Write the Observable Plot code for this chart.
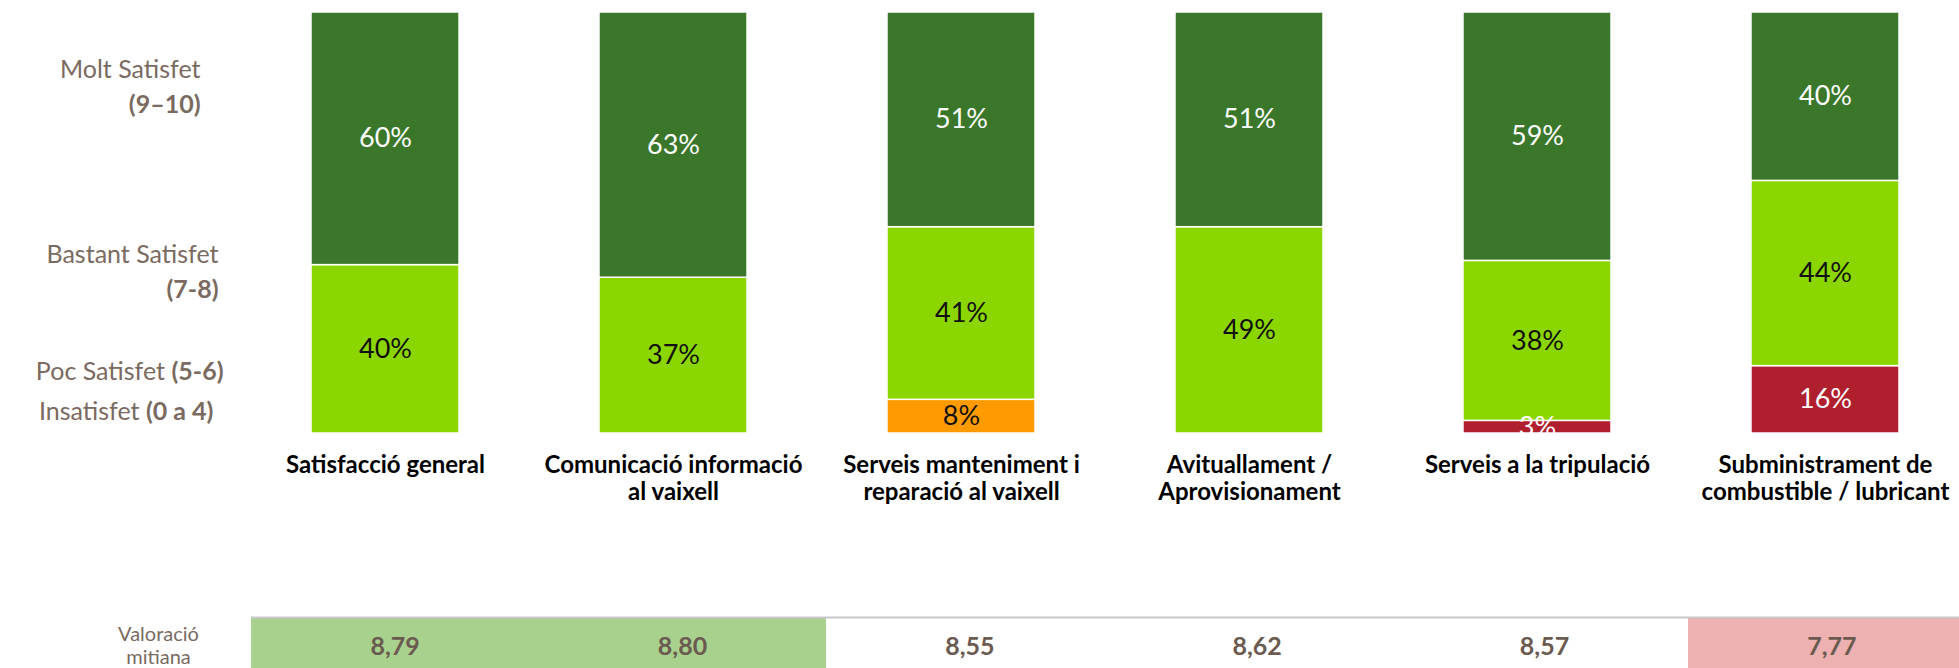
<!DOCTYPE html>
<html>
<head>
<meta charset="utf-8">
<script src="https://cdn.jsdelivr.net/npm/d3@7"></script>
<script src="https://cdn.jsdelivr.net/npm/@observablehq/plot@0.6"></script>
<style>
  html, body { margin: 0; padding: 0; background: #fff; overflow: hidden; }
  #chart svg { display: block; }
</style>
</head>
<body>
<div id="chart"></div>
<script>
// ---- data ----
const categoryLines = [
  ["Satisfacció general"],
  ["Comunicació informació", "al vaixell"],
  ["Serveis manteniment i", "reparació al vaixell"],
  ["Avituallament /", "Aprovisionament"],
  ["Serveis a la tripulació"],
  ["Subministrament de", "combustible / lubricant"]
];
const categories = categoryLines.map(l => l.join(" "));

const levels = ["Molt Satisfet", "Bastant Satisfet", "Poc Satisfet", "Insatisfet"];
const levelRanges = ["(9–10)", "(7-8)", "(5-6)", "(0 a 4)"];

const molt       = [60, 63, 51, 51, 59, 40];
const bastant    = [40, 37, 41, 49, 38, 44];
const poc        = [0, 0, 8, 0, 0, 0];
const insatisfet = [0, 0, 0, 0, 3, 16];

const mitjana = [8.79, 8.80, 8.55, 8.62, 8.57, 7.77];
const mitjanaGroup = ["alta", "alta", "mitja", "mitja", "mitja", "baixa"];
const mitjanaTitle = "Valoració\nmitiana";

// ---- build table for the library ----
const seriesByLevel = {"Molt Satisfet": molt, "Bastant Satisfet": bastant, "Poc Satisfet": poc, "Insatisfet": insatisfet};
const stackOrder = levels.slice().reverse();
const rows = [];
categories.forEach((c, i) => {
  stackOrder.forEach(l => {
    const v = seriesByLevel[l][i];
    if (v > 0) rows.push({cat: c, level: l, value: v});
  });
});

const levelColors = ["#3b772b", "#8cd600", "#ff9a00", "#b01f2e"];
const whiteText = new Set(["Molt Satisfet", "Insatisfet"]);
const legendColor = "#7a6a60";
const fontFamily = "Lato, 'Open Sans', sans-serif";

const stackOpts = {x: "cat", y: "value", z: "level", order: stackOrder};
const legendStyle = {frameAnchor: "top-left", textAnchor: "end", lineAnchor: "bottom",
  lineHeight: 1.4, fontSize: 25, fill: legendColor};

const plot1 = Plot.plot({
  width: 1959,
  height: 616,
  marginTop: 12,
  marginBottom: 183,
  marginLeft: 311,
  marginRight: 60,
  x: {domain: categories, paddingInner: 0.486, paddingOuter: 0, round: false, axis: null},
  y: {domain: [0, 100], axis: null},
  color: {domain: levels, range: levelColors},
  style: {fontFamily, background: "white"},
  marks: [
    Plot.barY(rows, Plot.stackY({...stackOpts, fill: "level", stroke: "white", strokeWidth: 1.5})),
    Plot.text(rows, Plot.stackY({...stackOpts,
      text: d => whiteText.has(d.level) ? d.value + "%" : "",
      fill: "white", fontSize: 27, clip: true})),
    Plot.text(rows, Plot.stackY({...stackOpts,
      text: d => whiteText.has(d.level) ? "" : d.value + "%",
      fill: "#111", fontSize: 27, clip: true})),
    // category labels
    Plot.text(categories, {
      x: d => d, text: (d, i) => categoryLines[i].join("\n"),
      frameAnchor: "bottom", lineAnchor: "top", dy: 21,
      fontSize: 24, fontWeight: "bold", lineHeight: 1.1, fill: "#000"
    }),
    // level legend on the left
    Plot.text([levels[0] + "\n" + levelRanges[0]], {...legendStyle, text: d => d, dx: -111, dy: 100}),
    Plot.text([levels[1] + "\n" + levelRanges[1]], {...legendStyle, text: d => d, dx: -93, dy: 285}),
    Plot.text([levels[2] + " " + levelRanges[2]], {...legendStyle, text: d => d, dx: -88, dy: 367.5}),
    Plot.text([levels[3] + " " + levelRanges[3]], {...legendStyle, text: d => d, dx: -98, dy: 407.5})
  ]
});

// bold the score ranges in the legend
d3.select(plot1).selectAll("text").each(function() {
  const s = this.textContent;
  if (!levels.some(l => s.startsWith(l)) || s.indexOf("(") < 0) return;
  const t = d3.select(this);
  const tspans = t.selectAll("tspan");
  if (tspans.size() > 1) {
    d3.select(tspans.nodes()[tspans.size() - 1]).attr("font-weight", "bold");
  } else {
    const k = s.lastIndexOf("(");
    t.text(null);
    t.append("tspan").text(s.slice(0, k));
    t.append("tspan").attr("font-weight", "bold").text(s.slice(k));
  }
});

const fmt = v => d3.format(".2f")(v).replace(".", ",");

const plot2 = Plot.plot({
  width: 1959,
  height: 52,
  marginTop: 2,
  marginBottom: 0,
  marginLeft: 251,
  marginRight: -16,
  x: {domain: categories, padding: 0, round: false, axis: null},
  y: {domain: [0, 1], axis: null},
  color: {domain: ["alta", "mitja", "baixa"], range: ["#a9d18e", "#ffffff", "#edb1b1"]},
  style: {fontFamily, background: "white"},
  marks: [
    Plot.cell(categories, {x: d => d, fill: (d, i) => mitjanaGroup[i], shapeRendering: "crispEdges"}),
    Plot.ruleY([1], {stroke: "#c8c8c8", strokeWidth: 2, dy: -1}),
    Plot.text(categories, {x: d => d, text: (d, i) => fmt(mitjana[i]),
      fontSize: 25, fontWeight: "bold", fill: "#6b5a50", dy: 3}),
    Plot.text([mitjanaTitle], {text: d => d, frameAnchor: "left", textAnchor: "middle", dx: -93, dy: 2,
      fontSize: 20, lineHeight: 1.15, fill: legendColor})
  ]
});

const chart = document.getElementById("chart");
chart.append(plot1, plot2);
</script>
</body>
</html>
